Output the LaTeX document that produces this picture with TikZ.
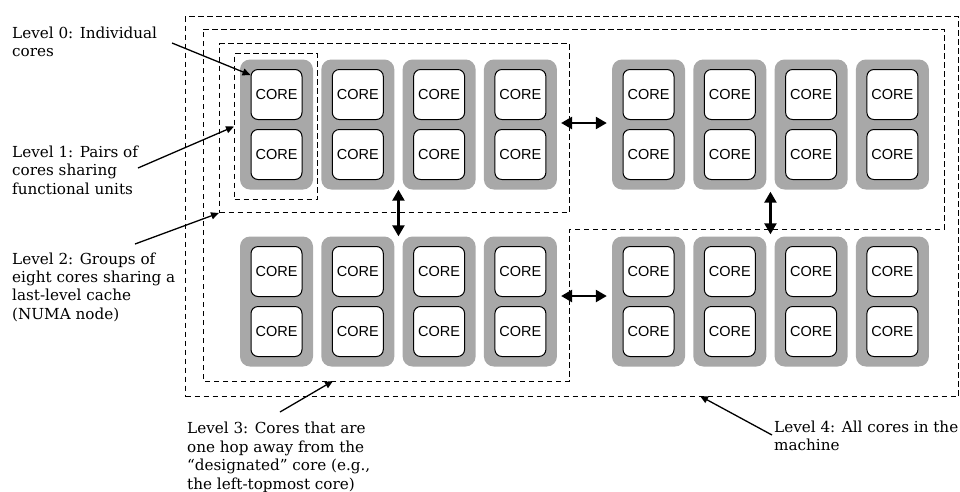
\documentclass[tikz,border=0pt]{standalone}
\usepackage{fontspec}
\setmainfont{DejaVu Serif}
\newfontfamily\corefont{Liberation Sans}
\usetikzlibrary{arrows.meta,calc}
\definecolor{pairgray}{RGB}{168,168,168}
\tikzset{
  pair/.style={fill=pairgray, rounded corners=10pt, minimum width=73pt, minimum height=130pt, inner sep=0pt},
  corebox/.style={draw=black, line width=1pt, fill=white, rounded corners=7pt, minimum width=51pt, minimum height=50pt, inner sep=0pt, font=\corefont\fontsize{14.5}{16}\selectfont},
  lvl/.style={draw=black, line width=1pt, dash pattern=on 5.5pt off 3.5pt, inner sep=0pt},
  lab/.style={align=left, inner sep=0pt, anchor=base west, font=\fontsize{15.2}{18.4}\selectfont},
  link/.style={line width=2.4pt, {Triangle[length=11pt,width=12pt]}-{Triangle[length=11pt,width=12pt]}},
  note/.style={line width=1.3pt, -{Triangle[length=8pt,width=7pt]}}
}
\begin{document}
\begin{tikzpicture}[x=1pt,y=-1pt]
\useasboundingbox (0,0) rectangle (960,491);

% pairs of cores
\foreach \i/\x in {1/276.5,2/357.8,3/439.1,4/520.4,5/648.5,6/729.8,7/811.1,8/892.4}{
  \node[pair] (t\i) at (\x,124.5) {};
  \node[corebox] (t\i-a) at (\x,94.5) {CORE};
  \node[corebox] (t\i-b) at (\x,154.5) {CORE};
  \node[pair] (b\i) at (\x,301.5) {};
  \node[corebox] (b\i-a) at (\x,271.5) {CORE};
  \node[corebox] (b\i-b) at (\x,331.5) {CORE};
}

% level boxes
\node[lvl, anchor=north west, minimum width=83pt, minimum height=146pt] (L1) at (234,53) {};
\node[lvl, anchor=north west, minimum width=350pt, minimum height=169pt] (L2) at (219,43) {};
\node[lvl, anchor=north west, minimum width=773pt, minimum height=380pt] (L4) at (185,16) {};
\coordinate (L3tl) at (203,29);
\coordinate (L3tr) at (944,29);
\coordinate (L3mr) at (944,229);
\coordinate (L3mm) at (569,229);
\coordinate (L3br) at (569,381);
\coordinate (L3bl) at (203,381);
\draw[lvl] (L3tl) -- (L3tr) -- (L3mr) -- (L3mm) -- (L3br) -- (L3bl) -- cycle;
\coordinate (L3tip) at (333,381);
\coordinate (L4tip) at (700,396);

% links between groups
\draw[link, shorten <=4pt, shorten >=5pt] ([yshift=1.5pt]t4.east) -- ([yshift=1.5pt]t5.west);
\draw[link, shorten <=4pt, shorten >=5pt] ([yshift=5.5pt]b4.east) -- ([yshift=5.5pt]b5.west);
\draw[link] ($(t2.south east)!0.5!(t3.south west)$) -- ($(b2.north east)!0.5!(b3.north west)$);
\draw[link, shorten <=2pt, shorten >=2pt] ($(t6.south east)!0.5!(t7.south west)$) -- ($(b6.north east)!0.5!(b7.north west)$);

% labels (anchored at the baseline of their last line)
\node[lab] (lab0) at (12,56.4) {Level 0: Individual\\cores};
\node[lab] (lab1) at (12,194) {Level 1: Pairs of\\cores sharing\\functional units};
\node[lab] (lab2) at (12,319.2) {Level 2: Groups of\\eight cores sharing a\\last-level cache\\(NUMA node)};
\node[lab] (lab3) at (187,489) {Level 3: Cores that are\\one hop away from the\\“designated” core (e.g.,\\the left-topmost core)};
\node[lab] (lab4) at (774,450.4) {Level 4: All cores in the\\machine};

% annotation arrows
\coordinate (s0) at (172,43);
\coordinate (s1) at (138,168);
\coordinate (s2) at (135,244);
\coordinate (s3) at (280,412);
\coordinate (s4) at (772,435);
\draw[note] (s0) -- ($(t1-a.north west)+(0,6)$);
\draw[note] (s1) -- (L1.west);
\draw[note] (s2) -- (L2.south west);
\draw[note] (s3) -- (L3tip);
\draw[note] (s4) -- (L4tip);
\end{tikzpicture}
\end{document}
